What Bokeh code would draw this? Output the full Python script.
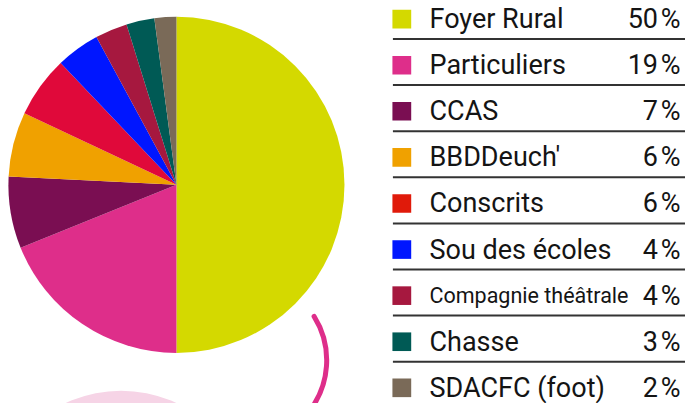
import math
from bokeh.plotting import figure
from bokeh.models import Range1d, ColumnDataSource
from bokeh.core.properties import value
from bokeh.embed import file_html
from bokeh.resources import INLINE

# ---- data ----
categories = ["Foyer Rural", "Particuliers", "CCAS", "BBDDeuch'", "Conscrits",
              "Sou des écoles", "Compagnie théâtrale", "Chasse", "SDACFC (foot)"]
shares = [50.0, 18.9, 6.9, 6.2, 5.9, 4.2, 3.1, 2.7, 2.1]
pct_labels = ["50\u200a%", "19\u200a%", "7\u200a%", "6\u200a%", "6\u200a%",
              "4\u200a%", "4\u200a%", "3\u200a%", "2\u200a%"]
pie_colors = ["#d4d900", "#de2e8a", "#7a0e52", "#f0a100", "#e0093a",
              "#0016ff", "#a6183f", "#005a55", "#7a6a58"]
legend_colors = ["#d4d900", "#de2e8a", "#7a0e52", "#f0a100", "#e01a0a",
                 "#0016ff", "#a6183f", "#005a55", "#7a6a58"]

W, H = 685, 403
RW, RH = 693, 411
p = figure(width=W, height=H, output_backend="svg", toolbar_location=None,
           x_range=Range1d(0, RW), y_range=Range1d(0, RH),
           min_border=0, outline_line_color=None)
p.axis.visible = False
p.grid.visible = False
p.background_fill_color = "white"
p.border_fill_color = "white"

def sy(y):
    return RH - y

# decorative shapes
p.circle(x=[122], y=[sy(531)], radius=132,
         fill_color="#f6d4e6", line_color=None)
p.arc(x=[246], y=[sy(367)], radius=84,
      start_angle=math.radians(-40), end_angle=math.radians(32),
      line_color="#de2e8a", line_width=5, line_cap="round")

# pie
total = sum(shares)
starts, ends = [], []
a = math.pi / 2
for v in shares:
    starts.append(a)
    a -= 2 * math.pi * v / total
    ends.append(a)
src = ColumnDataSource(dict(start=starts, end=ends, color=pie_colors))
p.wedge(x=178, y=sy(188), radius=170,
        start_angle="start", end_angle="end", direction="clock",
        fill_color="color", line_color=None, source=src)

# legend
n = len(categories)
row_y = [sy(19 + 47 * i) for i in range(n)]
line_y = [sy(39.3 + 47 * i) for i in range(n - 1)]
p.rect(x=[406] * n, y=row_y, width=19, height=19,
       fill_color=legend_colors, line_color=None)
font = value("Roboto")
sizes = ["27px"] * n
sizes[6] = "21.5px"
lsrc = ColumnDataSource(dict(x=[434] * n, y=row_y, t=categories, s=sizes))
p.text(x="x", y="y", text="t", source=lsrc, text_font=font, text_font_size="s",
       text_baseline="middle", text_align="left", text_color="#141414")
p.text(x=[688] * n, y=row_y, text=pct_labels, text_font=font, text_font_size="27px",
       text_baseline="middle", text_align="right", text_color="#141414")
p.segment(x0=[397] * (n - 1), y0=line_y, x1=[RW] * (n - 1), y1=line_y,
          line_color="#333333", line_width=2)

open("out.html", "w").write(file_html(p, INLINE))
